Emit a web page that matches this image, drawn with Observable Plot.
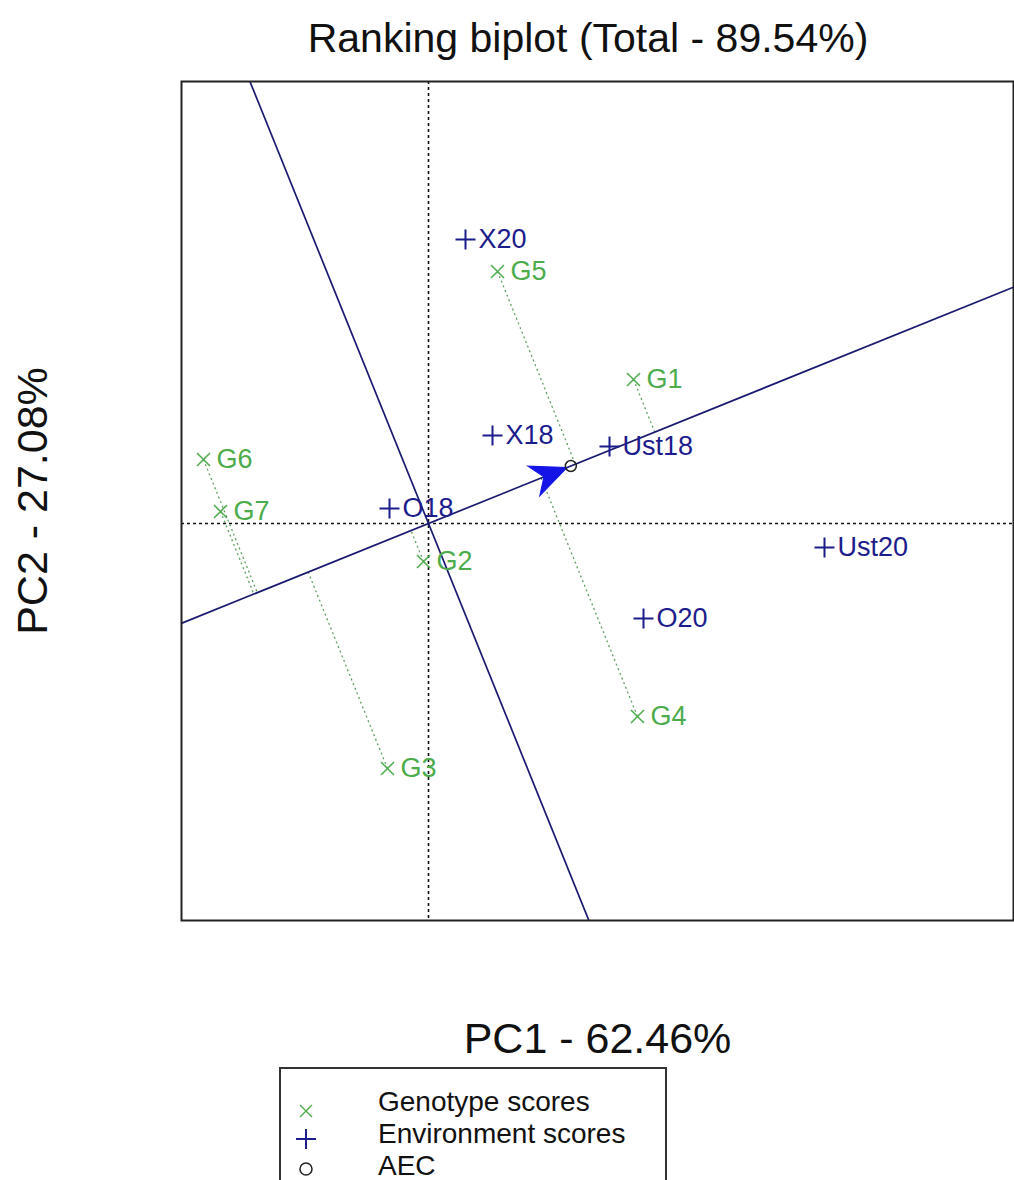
<!DOCTYPE html>
<html>
<head>
<meta charset="utf-8">
<script src="https://cdn.jsdelivr.net/npm/d3@7"></script>
<script src="https://cdn.jsdelivr.net/npm/@observablehq/plot@0.6"></script>
<style>
  html, body { margin: 0; padding: 0; background: #fff; }
  #wrap { position: relative; width: 1014px; height: 1180px; overflow: hidden; font-family: "Liberation Sans", Arial, Helvetica, sans-serif; }
  #title { position: absolute; top: 13px; left: 0; width: 1176px; text-align: center; font-size: 41px; color: #111; line-height: 50px; }
  #chart { position: absolute; top: 0; left: 0; }
  #legend { position: absolute; left: 279px; top: 1067px; width: 384px; height: 160px; border: 2px solid #333; border-bottom: none; }
  #legend .row { position: absolute; left: 97px; font-size: 28px; color: #111; line-height: 32px; white-space: nowrap; }
  #legend svg { position: absolute; left: 0; top: 0; }
</style>
</head>
<body>
<div id="wrap">
  <div id="chart"></div>
  <div id="title">Ranking biplot (Total - 89.54%)</div>
  <div id="legend"></div>
</div>
<script>
// ---- data ----
const genotypes = ["G1", "G2", "G3", "G4", "G5", "G6", "G7"];
const genoPC1 = [2.05, -0.05, -0.41, 2.09, 0.69, -2.25, -2.08];
const genoPC2 = [1.44, -0.38, -2.45, -1.93, 2.52, 0.64, 0.12];

const environments = ["O18", "O20", "Ust18", "Ust20", "X18", "X20"];
const envPC1 = [-0.39, 2.15, 1.81, 3.96, 0.64, 0.37];
const envPC2 = [0.15, -0.95, 0.77, -0.24, 0.88, 2.84];

const titleText = "Ranking biplot (Total - 89.54%)";
const xLabel = "PC1 - 62.46%";
const yLabel = "PC2 - 27.08%";
const legendLabels = ["Genotype scores", "Environment scores", "AEC"];

// ---- colours ----
const genoColor = "#4cac4c";
const envColor = "#1c1c8c";
const lineColor = "#1a1a70";
const arrowColor = "#1414e6";

// ---- derived tables ----
const geno = genotypes.map((g, i) => ({name: g, x: genoPC1[i], y: genoPC2[i]}));
const env = environments.map((e, i) => ({name: e, x: envPC1[i], y: envPC2[i]}));
const aec = {x: d3.mean(envPC1), y: d3.mean(envPC2)};
const aa = aec.x * aec.x + aec.y * aec.y;
const proj = geno.map(g => {
  const t = (g.x * aec.x + g.y * aec.y) / aa;
  return {x1: g.x, y1: g.y, x2: t * aec.x, y2: t * aec.y};
});
const K = 20;
const aecLine = [{x1: -K * aec.x, y1: -K * aec.y, x2: K * aec.x, y2: K * aec.y}];
const perpLine = [{x1: K * aec.y, y1: -K * aec.x, x2: -K * aec.y, y2: K * aec.x}];
const angle = Math.atan2(aec.y, aec.x) * 180 / Math.PI;

// ---- custom symbols ----
const plusSym = {draw(c) { c.moveTo(-10, 0); c.lineTo(10, 0); c.moveTo(0, -10); c.lineTo(0, 10); }};
const timesSym = {draw(c) { c.moveTo(-6.5, -6.5); c.lineTo(6.5, 6.5); c.moveTo(-6.5, 6.5); c.lineTo(6.5, -6.5); }};
const arrowSym = {draw(c) { c.moveTo(-4, 0); c.lineTo(-40, -16); c.lineTo(-29, 0); c.lineTo(-40, 16); c.closePath(); }};

document.getElementById("title").textContent = titleText;

const chart = Plot.plot({
  width: 1014,
  height: 1066,
  marginLeft: 181,
  marginRight: 1,
  marginTop: 81,
  marginBottom: 146,
  x: {domain: [-2.47, 5.85], axis: null},
  y: {domain: [-3.97, 4.42], axis: null},
  style: {fontFamily: "'Liberation Sans', Arial, Helvetica, sans-serif", background: "transparent", overflow: "visible"},
  marks: [
    Plot.ruleX([0], {stroke: "#111", strokeWidth: 1.6, strokeDasharray: "3,3"}),
    Plot.ruleY([0], {stroke: "#111", strokeWidth: 1.6, strokeDasharray: "3,3"}),
    Plot.link(proj, {x1: "x1", y1: "y1", x2: "x2", y2: "y2", stroke: "#5f9f5f", strokeWidth: 1.3, strokeDasharray: "2,3", clip: true}),
    Plot.link(aecLine, {x1: "x1", y1: "y1", x2: "x2", y2: "y2", stroke: lineColor, strokeWidth: 1.7, clip: true}),
    Plot.link(perpLine, {x1: "x1", y1: "y1", x2: "x2", y2: "y2", stroke: lineColor, strokeWidth: 1.7, clip: true}),
    Plot.dot(env, {x: "x", y: "y", symbol: plusSym, stroke: envColor, fill: "none", strokeWidth: 2}),
    Plot.text(env, {x: "x", y: "y", text: "name", textAnchor: "start", dx: 13, fill: envColor, fontSize: 27}),
    Plot.dot(geno, {x: "x", y: "y", symbol: timesSym, stroke: genoColor, fill: "none", strokeWidth: 1.5}),
    Plot.text(geno, {x: "x", y: "y", text: "name", textAnchor: "start", dx: 13, fill: genoColor, fontSize: 27}),
    Plot.dot([aec], {x: "x", y: "y", symbol: arrowSym, rotate: -angle, fill: arrowColor, stroke: arrowColor, strokeWidth: 1}),
    Plot.dot([aec], {x: "x", y: "y", r: 5.5, stroke: "#222", fill: "none", strokeWidth: 1.5}),
    Plot.frame({stroke: "#222", strokeWidth: 2}),
    Plot.text([xLabel], {frameAnchor: "bottom", dy: 132, fontSize: 43, fill: "#111"}),
    Plot.text([yLabel], {frameAnchor: "left", textAnchor: "middle", dx: -148, rotate: -90, fontSize: 43, fill: "#111"})
  ]
});
document.getElementById("chart").appendChild(chart);

// ---- legend ----
const legend = document.getElementById("legend");
const rowTops = [17, 49, 81];
legendLabels.forEach((t, i) => {
  const d = document.createElement("div");
  d.className = "row";
  d.style.top = rowTops[i] + "px";
  d.textContent = t;
  legend.appendChild(d);
});
const ns = "http://www.w3.org/2000/svg";
const ls = document.createElementNS(ns, "svg");
ls.setAttribute("width", "80");
ls.setAttribute("height", "140");
ls.innerHTML =
  `<path d="M19,36 L31,48 M19,48 L31,36" stroke="${genoColor}" stroke-width="1.4" fill="none"/>` +
  `<path d="M15,70 L35,70 M25,60 L25,80" stroke="${envColor}" stroke-width="2" fill="none"/>` +
  `<circle cx="25" cy="100" r="6" stroke="#222" stroke-width="1.5" fill="none"/>`;
legend.appendChild(ls);
</script>
</body>
</html>
